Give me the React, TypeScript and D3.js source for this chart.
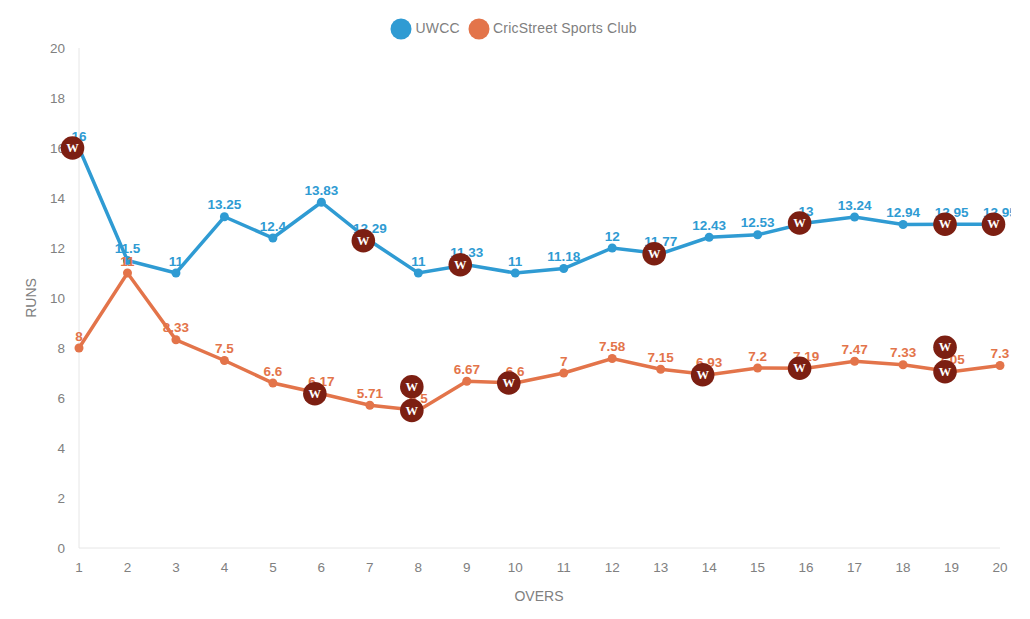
import * as d3 from "d3";
import { useEffect, useRef } from "react";

const overs = d3.range(1, 21);
const uwcc = [16, 11.5, 11, 13.25, 12.4, 13.83, 12.29, 11, 11.33, 11, 11.18, 12, 11.77, 12.43, 12.53, 13, 13.24, 12.94, 12.95, 12.95];
const cricStreet = [8, 11, 8.33, 7.5, 6.6, 6.17, 5.71, 5.5, 6.67, 6.6, 7, 7.58, 7.15, 6.93, 7.2, 7.19, 7.47, 7.33, 7.05, 7.3];
const yTicks = [0, 2, 4, 6, 8, 10, 12, 14, 16, 18, 20];

// [over, height the marker sits at]
const uwccWickets = [[1, 16], [7, 12.29], [9, 11.33], [13, 11.77], [16, 13], [19, 12.95], [20, 12.95]];
const cricStreetWickets = [[6, 6.17], [8, 5.5], [8, 6.45], [10, 6.6], [14, 6.93], [16, 7.19], [19, 7.05], [19, 8.03]];

const BLUE = "#2f9bd3";
const ORANGE = "#e3744a";
const GREY = "#808080";
const FONT = "'Liberation Sans', Arial, sans-serif";

export default function App() {
  const ref = useRef<SVGSVGElement>(null);

  useEffect(() => {
    const svg = d3.select(ref.current);
    svg.selectAll("*").remove();

    const x = d3.scaleLinear().domain([1, 20]).range([79, 1000]);
    const y = d3.scaleLinear().domain([0, 20]).range([548, 48]);

    // axes
    svg.append("line").attr("x1", x(1)).attr("x2", x(1)).attr("y1", y(20)).attr("y2", y(0)).attr("stroke", "#e6e6e6");
    svg.append("line").attr("x1", x(1)).attr("x2", x(20)).attr("y1", y(0)).attr("y2", y(0)).attr("stroke", "#e6e6e6");

    svg.selectAll(".ytick").data(yTicks).enter().append("text")
      .attr("x", 65).attr("y", (d) => y(d) + 4.5)
      .attr("text-anchor", "end").attr("font-size", 13.5).attr("fill", GREY)
      .text((d) => d);

    svg.selectAll(".xtick").data(overs).enter().append("text")
      .attr("x", (d) => x(d)).attr("y", 572)
      .attr("text-anchor", "middle").attr("font-size", 13.5).attr("fill", GREY)
      .text((d) => d);

    svg.append("text").attr("x", 539).attr("y", 601).attr("text-anchor", "middle")
      .attr("font-size", 14).attr("fill", GREY).text("OVERS");
    svg.append("text").attr("transform", "translate(36,298) rotate(-90)").attr("text-anchor", "middle")
      .attr("font-size", 14).attr("fill", GREY).text("RUNS");

    // legend
    const legend = [
      { name: "UWCC", color: BLUE, cx: 401, tx: 415.5 },
      { name: "CricStreet Sports Club", color: ORANGE, cx: 479, tx: 493 },
    ];
    const lg = svg.selectAll(".lg").data(legend).enter().append("g");
    lg.append("circle").attr("cx", (d) => d.cx).attr("cy", 29).attr("r", 10.5).attr("fill", (d) => d.color);
    lg.append("text").attr("x", (d) => d.tx).attr("y", 33).attr("font-size", 14)
      .attr("letter-spacing", 0.2).attr("fill", GREY).text((d) => d.name);

    // lines and their points
    const line = d3.line<number>().x((_, i) => x(overs[i])).y((d) => y(d));
    const series = [
      { values: uwcc, color: BLUE, wickets: uwccWickets },
      { values: cricStreet, color: ORANGE, wickets: cricStreetWickets },
    ];

    series.forEach((s) => {
      svg.append("path").attr("d", line(s.values)).attr("fill", "none")
        .attr("stroke", s.color).attr("stroke-width", 3.5);
      svg.append("g").selectAll("circle").data(s.values).enter().append("circle")
        .attr("cx", (_, i) => x(overs[i])).attr("cy", (d) => y(d)).attr("r", 4.5).attr("fill", s.color);
    });

    series.forEach((s) => {
      svg.append("g").selectAll("text").data(s.values).enter().append("text")
        .attr("x", (_, i) => x(overs[i])).attr("y", (d) => y(d) - 7.5)
        .attr("text-anchor", "middle").attr("font-size", 13.5).attr("font-weight", "bold")
        .attr("fill", s.color).text((d) => d);
    });

    // wicket markers sit a little left of their over
    series.forEach((s) => {
      const w = svg.append("g").selectAll("g").data(s.wickets).enter().append("g")
        .attr("transform", (d) => `translate(${x(d[0]) - 6.5},${y(d[1])})`);
      w.append("circle").attr("r", 11.8).attr("fill", "#7c1f12");
      w.append("text").attr("y", 4).attr("text-anchor", "middle").attr("font-size", 12.5)
        .attr("font-weight", "bold").attr("font-family", "'Liberation Serif', serif")
        .attr("fill", "#fff").text("W");
    });
  }, []);

  return (
    <div style={{ margin: -8, background: "#fff", width: 1030, height: 619 }}>
      <svg ref={ref} width={1011} height={619} fontFamily={FONT} style={{ display: "block" }} />
    </div>
  );
}
